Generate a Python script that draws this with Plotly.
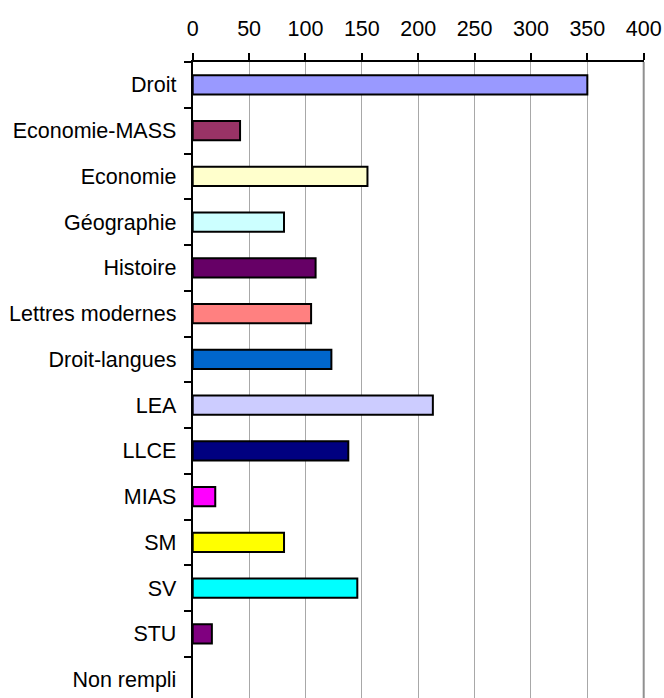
import plotly.graph_objects as go

categories = ["Droit", "Economie-MASS", "Economie", "Géographie", "Histoire",
              "Lettres modernes", "Droit-langues", "LEA", "LLCE", "MIAS",
              "SM", "SV", "STU", "Non rempli"]
values = [350, 42, 155, 81, 109, 105, 123, 213, 138, 20, 81, 146, 17, 0]
colors = ["#9999FF", "#993366", "#FFFFCC", "#CCFFFF", "#660066", "#FF8080",
          "#0066CC", "#CCCCFF", "#000080", "#FF00FF", "#FFFF00", "#00FFFF",
          "#800080", "#FFFFFF"]
x_ticks = [0, 50, 100, 150, 200, 250, 300, 350, 400]

W, H = 664, 698
fig = go.Figure(go.Bar(
    y=categories, x=values, orientation="h", width=0.42,
    marker=dict(color=colors,
                line=dict(color="black", width=[2 if v > 0 else 0 for v in values])),
))

font = dict(family="Liberation Sans, Arial, sans-serif", size=21.5, color="black")

plot_top = 62
fig.update_layout(
    width=W, height=H,
    margin=dict(l=0, r=0, t=0, b=0, autoexpand=False),
    paper_bgcolor="white", plot_bgcolor="white",
    showlegend=False,
    font=font,
    xaxis=dict(
        domain=[192.7 / W, 643.7 / W],
        side="top", range=[0, 400], tickvals=x_ticks,
        showgrid=True, gridcolor="#a8a8a8", gridwidth=1,
        showline=True, linecolor="black", linewidth=2,
        ticks="outside", ticklen=7, tickwidth=2, tickcolor="black",
        tickfont=font, zeroline=False, fixedrange=True, automargin=False,
        ticklabelstandoff=8,
    ),
    yaxis=dict(
        domain=[0, 1 - plot_top / H],
        type="category", categoryorder="array", categoryarray=categories,
        range=[-0.5 + (H - plot_top) / 45.75, -0.5],
        showline=True, linecolor="black", linewidth=2,
        ticks="outside", ticklen=7, tickwidth=2, tickcolor="black",
        tickson="boundaries", showgrid=False, automargin=False,
        tickfont=font, ticklabelstandoff=10,
    ),
)
fig.add_shape(type="line", xref="x domain", yref="y domain",
              x0=1, x1=1, y0=0, y1=1, line=dict(color="#909090", width=2))

fig.write_html("out.html",
               config={"displayModeBar": False},
               post_script="document.body.style.margin='0';document.body.style.overflow='hidden';")
